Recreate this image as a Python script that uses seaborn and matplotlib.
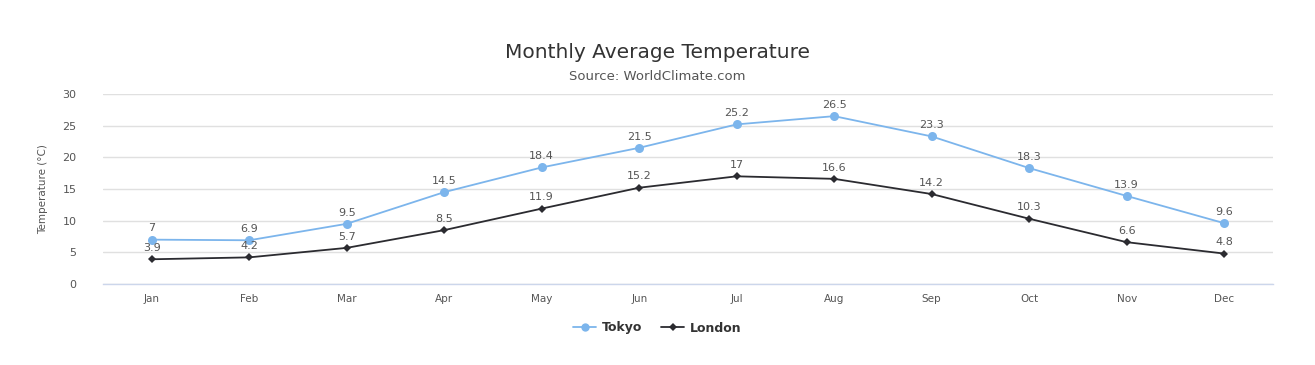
import matplotlib
matplotlib.use("Agg")
import matplotlib.pyplot as plt
import seaborn as sns
import pandas as pd
import numpy as np
from matplotlib.lines import Line2D

months = ["Jan", "Feb", "Mar", "Apr", "May", "Jun", "Jul", "Aug", "Sep", "Oct", "Nov", "Dec"]
tokyo = [7.0, 6.9, 9.5, 14.5, 18.4, 21.5, 25.2, 26.5, 23.3, 18.3, 13.9, 9.6]
london = [3.9, 4.2, 5.7, 8.5, 11.9, 15.2, 17.0, 16.6, 14.2, 10.3, 6.6, 4.8]
series_names = ["Tokyo", "London"]
colors = ["#7cb5ec", "#2b2b30"]

sns.set_theme(style="white")
plt.rcParams['font.family'] = ['DejaVu Sans']

df = pd.DataFrame({
    "month": months * 2,
    "x": list(range(12)) * 2,
    "temp": tokyo + london,
    "city": [series_names[0]] * 12 + [series_names[1]] * 12,
})

fig = plt.figure(figsize=(13.15, 3.65), dpi=100)
ax = fig.add_axes([0.0783, 0.222, 0.8897, 0.5205])

sns.lineplot(data=df[df.city == "Tokyo"], x="x", y="temp", color=colors[0],
             marker="o", markersize=6.5, linewidth=1.3, markeredgewidth=0, ax=ax, legend=False)
sns.lineplot(data=df[df.city == "London"], x="x", y="temp", color=colors[1],
             marker="D", markersize=4.5, linewidth=1.3, markeredgewidth=0, ax=ax, legend=False)

for vals in (tokyo, london):
    for i, v in enumerate(vals):
        ax.annotate(f"{v:g}", (i, v), xytext=(0, 4.5), textcoords="offset points",
                    ha="center", va="bottom", fontsize=8, color="#555555")

ax.set_xlim(-0.5, 11.5)
ax.set_ylim(0, 30)
yt = [0, 5, 10, 15, 20, 25, 30]
ax.set_yticks(yt)
ax.set_yticklabels([str(t) for t in yt], fontsize=8, color="#555555")
ax.set_xticks(range(12))
ax.set_xticklabels(months, fontsize=7.5, color="#555555")
ax.set_xticks(np.arange(-0.5, 12, 1), minor=True)
ax.tick_params(axis="x", which="major", length=0, pad=7)
ax.tick_params(axis="x", which="minor", length=6, color="#ccd6eb", width=1, direction="out")
ax.tick_params(axis="y", length=0, pad=19)
ax.grid(axis="y", color="#e0e0e0", linewidth=1)
ax.set_axisbelow(True)
for s in ["top", "right", "left"]:
    ax.spines[s].set_visible(False)
ax.spines["bottom"].set_color("#ccd6eb")
ax.spines["bottom"].set_linewidth(1)
ax.set_xlabel("")
ax.set_ylabel("Temperature (°C)", fontsize=7.5, color="#555555", labelpad=10)

fig.text(0.5, 1 - 53 / 365, "Monthly Average Temperature", ha="center", va="center",
         fontsize=14.5, color="#333333")
fig.text(0.5, 1 - 76 / 365, "Source: WorldClimate.com", ha="center", va="center",
         fontsize=9.5, color="#555555")

handles = [Line2D([], [], color=colors[0], marker="o", markersize=6, markeredgewidth=0, linewidth=1.3),
           Line2D([], [], color=colors[1], marker="D", markersize=4.5, markeredgewidth=0, linewidth=1.3)]
fig.legend(handles, series_names, loc="center", bbox_to_anchor=(0.5, 1 - 328 / 365), ncol=2,
           frameon=False, prop={"weight": "bold", "size": 9}, handlelength=1.8,
           columnspacing=1.5, handletextpad=0.5, labelcolor="#333333")

fig.savefig("out.png", dpi=100, facecolor="white")
